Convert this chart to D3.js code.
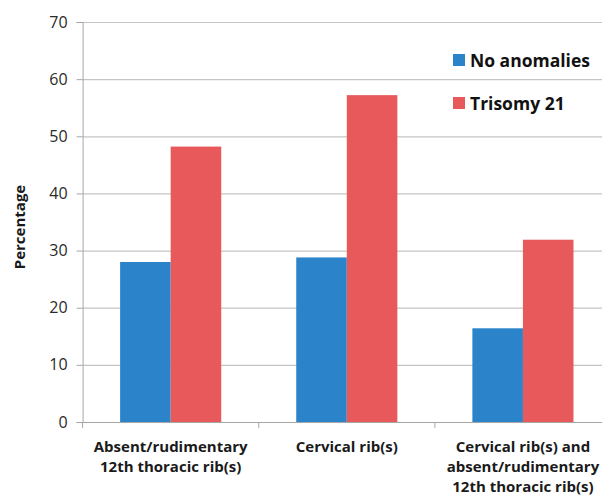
<!DOCTYPE html>
<html>
<head>
<meta charset="utf-8">
<script src="https://cdn.jsdelivr.net/npm/d3@7"></script>
<style>
  body { margin: 0; background: #fff; }
  svg { display: block; font-family: "Open Sans", sans-serif; }
</style>
</head>
<body>
<div id="chart"></div>
<script>
// data
var categories = [
    ["Absent/rudimentary", "12th thoracic rib(s)"],
    ["Cervical rib(s)"],
    ["Cervical rib(s) and", "absent/rudimentary", "12th thoracic rib(s)"]
];
var seriesNames = ["No anomalies", "Trisomy 21"];
var noAnomalies = [28, 28.8, 16.4];
var trisomy21 = [48.2, 57.2, 31.9];
var yTicks = [0, 10, 20, 30, 40, 50, 60, 70];

var colors = ["#2b83c9", "#e8595b"];

var width = 602,
    height = 496;

var svg = d3.select("#chart").append("svg")
    .attr("width", width)
    .attr("height", height);

var x0 = 82.6, x1 = 611,
    yTop = 22, yBottom = 422;

var x = d3.scaleBand()
    .domain(d3.range(categories.length))
    .range([x0, x1]);

var xs = d3.scaleBand()
    .domain([0, 1])
    .range([x.bandwidth() * 0.213, x.bandwidth() * 0.787]);

var y = d3.scaleLinear()
    .domain([0, 70])
    .range([yBottom, yTop]);

// gridlines
svg.append("g")
    .selectAll("line")
    .data(yTicks.slice(1))
    .enter()
        .append("line")
        .attr("x1", x0)
        .attr("x2", width)
        .attr("y1", function(d) { return y(d) + 0.5; })
        .attr("y2", function(d) { return y(d) + 0.5; })
        .attr("stroke", "#c4c4c4")
        .attr("stroke-width", 1.2);

// bars
var rows = categories.map(function(c, i) {
    return [noAnomalies[i], trisomy21[i]];
});

var groups = svg.append("g")
    .selectAll("g")
    .data(rows)
    .enter()
        .append("g")
        .attr("transform", function(d, i) { return "translate(" + x(i) + ",0)"; });

groups.selectAll("rect")
    .data(function(d) { return d; })
    .enter()
        .append("rect")
        .attr("x", function(d, j) { return xs(j); })
        .attr("width", xs.bandwidth())
        .attr("y", function(d) { return y(d); })
        .attr("height", function(d) { return y(0) - y(d); })
        .attr("fill", function(d, j) { return colors[j]; });

// y axis
var yAxis = svg.append("g")
    .attr("transform", "translate(" + x0 + ",0)")
    .call(d3.axisLeft(y).tickValues(yTicks).tickSize(6).tickPadding(9));
yAxis.select(".domain").attr("stroke", "#a6a6a6");
yAxis.selectAll(".tick line").attr("stroke", "#a6a6a6");
yAxis.selectAll(".tick text")
    .attr("fill", "#2a2a2a")
    .style("font-size", "16px")
    .style("font-family", "Open Sans, sans-serif");

// x axis line + boundary ticks
svg.append("line")
    .attr("x1", x0).attr("x2", width)
    .attr("y1", yBottom + 0.5).attr("y2", yBottom + 0.5)
    .attr("stroke", "#a6a6a6");

svg.append("g")
    .selectAll("line")
    .data(d3.range(categories.length))
    .enter()
        .append("line")
        .attr("x1", function(d) { return x(d); })
        .attr("x2", function(d) { return x(d); })
        .attr("y1", yBottom)
        .attr("y2", yBottom + 6)
        .attr("stroke", "#a6a6a6");

// category labels
var labels = svg.append("g")
    .selectAll("text")
    .data(categories)
    .enter()
        .append("text")
        .attr("x", function(d, i) { return x(i) + x.bandwidth() / 2; })
        .attr("y", 452)
        .attr("text-anchor", "middle")
        .attr("font-weight", "bold")
        .attr("font-size", "15px")
        .attr("fill", "#1a1a1a");

labels.selectAll("tspan")
    .data(function(d) { return d; })
    .enter()
        .append("tspan")
        .attr("x", function() { return d3.select(this.parentNode).attr("x"); })
        .attr("dy", function(d, i) { return i ? 20 : 0; })
        .text(function(d) { return d; });

// y label
svg.append("text")
    .attr("transform", "translate(25,227) rotate(-90)")
    .attr("text-anchor", "middle")
    .attr("font-weight", "bold")
    .attr("font-size", "15px")
    .attr("fill", "#1a1a1a")
    .text("Percentage");

// legend
var legend = svg.append("g")
    .selectAll("g")
    .data(seriesNames)
    .enter()
        .append("g")
        .attr("transform", function(d, i) { return "translate(453," + (54 + i * 43) + ")"; });

legend.append("rect")
    .attr("width", 12)
    .attr("height", 12)
    .attr("fill", function(d, i) { return colors[i]; });

legend.append("text")
    .attr("x", 17)
    .attr("y", 12.5)
    .attr("font-weight", "bold")
    .attr("font-size", "17.5px")
    .attr("fill", "#111")
    .text(function(d) { return d; });
</script>
</body>
</html>
